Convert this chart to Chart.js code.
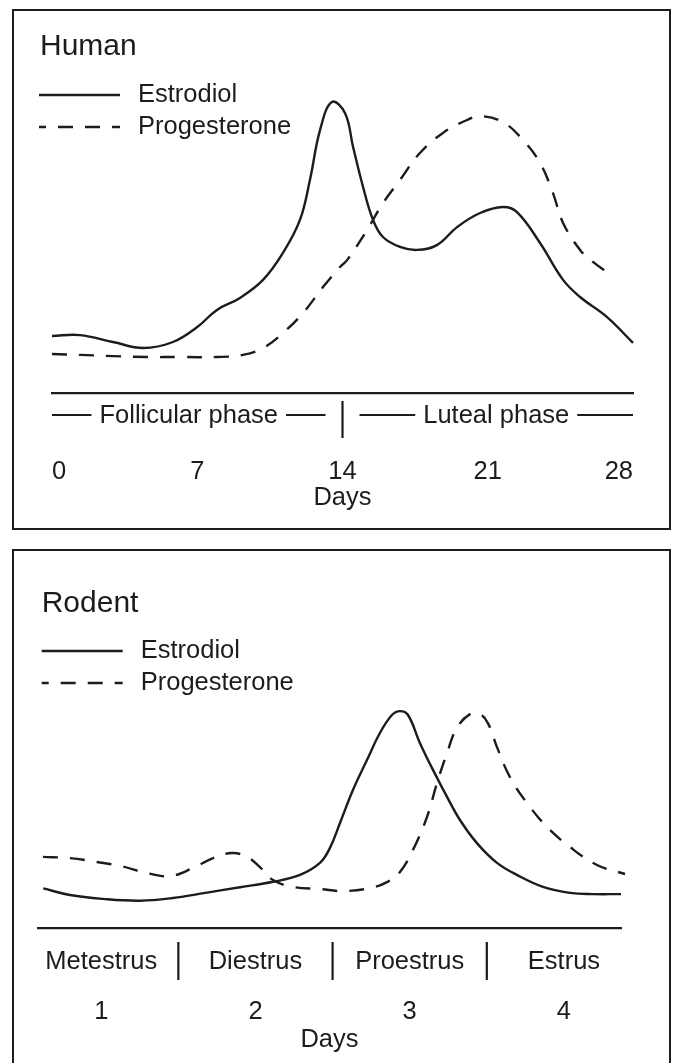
<!DOCTYPE html>
<html>
<head>
<meta charset="utf-8">
<title>Estradiol and progesterone: human vs rodent cycle</title>
<script src="https://cdn.jsdelivr.net/npm/chart.js@4.4.1/dist/chart.umd.min.js"></script>
<style>
  body { margin: 0; width: 674px; height: 1063px; overflow: hidden; background: #fff; position: relative; }
  .frame { position: absolute; left: 12px; width: 659px; border: 2.5px solid #1e1e1e; box-sizing: border-box; }
  #humanFrame { top: 9px; height: 521px; }
  #rodentFrame { top: 549px; height: 540px; }
  canvas { position: absolute; left: 0; }
  #humanChart { top: 0; }
  #rodentChart { top: 540px; }
</style>
</head>
<body>
<div class="frame" id="humanFrame"></div>
<div class="frame" id="rodentFrame"></div>
<canvas id="humanChart" width="674" height="540"></canvas>
<canvas id="rodentChart" width="674" height="523"></canvas>
<script>
// hormone levels (arbitrary units, 0-100)
const humanTicks = [0, 7, 14, 21, 28];
const humanPhases = ['Follicular phase', 'Luteal phase'];
const humanPhaseEdges = [0, 14, 28];

const humanE2Days = [0, 1.35, 2.94, 4.39, 5.83, 7, 7.95, 9.06, 10.17, 11.13, 11.95, 12.43, 12.92, 13.49, 14.12, 14.51,
  14.99, 15.47, 15.95, 16.77, 17.59, 18.55, 19.52, 20.63, 21.73, 22.41, 23.52, 24.63, 25.45, 26.75, 28];
const humanE2 = [19, 19.3, 17, 15, 17, 22, 27.7, 31.7, 37.7, 46.7, 57.7, 71, 87.7, 97, 93.3, 82,
  68.7, 57.7, 52, 48.7, 47.7, 49.3, 55.3, 60, 62, 60.3, 50, 37.7, 32, 25.3, 16.7];

const humanP4Days = [0, 1.35, 2.94, 4.58, 6.17, 7.95, 9.2, 10.17, 11.13, 12.1, 13.06, 13.88, 14.22, 15.18,
  15.95, 16.77, 17.73, 18.84, 20, 20.63, 21.73, 22.7, 23.52, 24.14, 24.63, 25.45, 26.07, 26.75];
const humanP4 = [13, 12.7, 12.3, 12, 12, 12, 12.7, 15, 20, 26.7, 35.3, 42, 44.3, 54.3,
  63.3, 71, 80, 86.7, 91, 92.3, 90.3, 84.3, 76.7, 66.7, 56.7, 47.7, 43.7, 40.3];

const rodentTicks = [1, 2, 3, 4];
const rodentStages = ['Metestrus', 'Diestrus', 'Proestrus', 'Estrus'];
const rodentStageEdges = [1.5, 2.5, 3.5];

const rodentE2Days = [0.624, 0.797, 1.011, 1.251, 1.465, 1.686, 1.9, 2.114, 2.289, 2.418, 2.483, 2.548, 2.632,
  2.723, 2.807, 2.885, 2.937, 2.989, 3.066, 3.151, 3.242, 3.326, 3.436, 3.566, 3.695, 3.864, 4.039, 4.188, 4.37];
const rodentE2 = [13.2, 11, 9.7, 9.1, 10, 11.8, 13.6, 15.4, 17.7, 21.7, 26.7, 35, 46,
  56, 65, 71, 72.3, 71, 61.7, 52.7, 43.7, 36, 28.3, 21.7, 17.7, 13.7, 11.7, 11.3, 11.3];

const rodentP4Days = [0.622, 0.797, 0.972, 1.122, 1.297, 1.446, 1.595, 1.725, 1.848, 1.945, 2.029, 2.114, 2.243,
  2.418, 2.567, 2.742, 2.853, 2.937, 3.021, 3.112, 3.177, 3.242, 3.306, 3.391, 3.455, 3.507, 3.566, 3.65,
  3.76, 3.89, 4.039, 4.214, 4.396];
const rodentP4 = [23.7, 23.3, 22, 20.7, 18.3, 17.3, 20, 23.3, 25, 23.7, 20.3, 16, 13.7,
  13, 12.3, 13.3, 15.3, 18.7, 26, 37, 48.3, 58.3, 66.7, 71.3, 71.3, 68.3, 60.3, 50.3,
  41.7, 33.7, 27, 21, 18];

const FONT = '"Liberation Sans", Arial, Helvetica, sans-serif';
const INK = '#1c1c1c';

function points(xs, ys) {
  return xs.map((x, i) => ({ x: x, y: ys[i] }));
}

function lineSet(label, xs, ys, dash) {
  return {
    label: label,
    data: points(xs, ys),
    borderColor: INK,
    borderWidth: 2.4,
    borderDash: dash,
    borderJoinStyle: 'round',
    pointRadius: 0,
    fill: false,
    tension: 0.4,
    clip: false
  };
}

// title, hand-made legend and the phase / stage row under the axis
const decor = {
  id: 'decor',
  afterDraw(chart, args, opts) {
    const ctx = chart.ctx;
    const sx = chart.scales.x;
    ctx.save();
    ctx.fillStyle = INK;
    ctx.strokeStyle = INK;
    ctx.textBaseline = 'alphabetic';

    ctx.font = '30px ' + FONT;
    ctx.textAlign = 'left';
    ctx.fillText(opts.title, opts.titleX, opts.titleY);

    ctx.font = '25.5px ' + FONT;
    chart.data.datasets.forEach((ds, i) => {
      const ly = opts.legendY[i];
      ctx.lineWidth = ds.borderWidth;
      ctx.setLineDash(ds.borderDash || []);
      ctx.lineDashOffset = 8;
      ctx.beginPath();
      ctx.moveTo(opts.legendX, ly);
      ctx.lineTo(opts.legendX + 81, ly);
      ctx.stroke();
      ctx.setLineDash([]);
      ctx.fillText(ds.label, opts.legendX + 99, ly + 6.5);
    });

    ctx.lineWidth = 2.2;
    ctx.textAlign = 'center';
    const rowY = opts.rowY;
    if (opts.phases) {
      const edges = opts.edges;
      for (let i = 0; i < opts.phases.length; i++) {
        const a = sx.getPixelForValue(edges[i]) + (i > 0 ? 17 : 0);
        const b = sx.getPixelForValue(edges[i + 1]) - (i < opts.phases.length - 1 ? 17 : 0);
        const c = (a + b) / 2;
        const w = ctx.measureText(opts.phases[i]).width;
        ctx.fillText(opts.phases[i], c, rowY);
        ctx.beginPath();
        ctx.moveTo(a, rowY - 8);
        ctx.lineTo(c - w / 2 - 8, rowY - 8);
        ctx.moveTo(c + w / 2 + 8, rowY - 8);
        ctx.lineTo(b, rowY - 8);
        ctx.stroke();
      }
      for (let i = 1; i < edges.length - 1; i++) {
        const px = sx.getPixelForValue(edges[i]);
        ctx.beginPath();
        ctx.moveTo(px, rowY - 22);
        ctx.lineTo(px, rowY + 15);
        ctx.stroke();
      }
    } else {
      opts.stages.forEach((s, i) => {
        ctx.fillText(s, sx.getPixelForValue(opts.stageAt[i]), rowY);
      });
      opts.edges.forEach(e => {
        const px = sx.getPixelForValue(e);
        ctx.beginPath();
        ctx.moveTo(px, rowY - 27);
        ctx.lineTo(px, rowY + 11);
        ctx.stroke();
      });
    }
    ctx.restore();
  }
};

function makeChart(id, cfg) {
  return new Chart(document.getElementById(id), {
    type: 'line',
    data: {
      datasets: [
        lineSet('Estrodiol', cfg.e2Days, cfg.e2, []),
        lineSet('Progesterone', cfg.p4Days, cfg.p4, [15, 12])
      ]
    },
    options: {
      responsive: false,
      animation: false,
      events: [],
      layout: { padding: cfg.padding },
      plugins: {
        legend: { display: false },
        tooltip: { enabled: false },
        decor: cfg.decor
      },
      scales: {
        x: {
          type: 'linear',
          min: cfg.min,
          max: cfg.max,
          afterBuildTicks: s => { s.ticks = cfg.ticks.map(v => ({ value: v })); },
          afterFit: s => { s.height = cfg.axisHeight; s.paddingLeft = 0; s.paddingRight = 0; },
          grid: { display: false },
          border: { display: true, color: INK, width: 2.3 },
          ticks: {
            align: cfg.tickAlign,
            maxRotation: 0,
            autoSkip: false,
            padding: cfg.tickPadding,
            color: INK,
            font: { family: FONT, size: 25.5 },
            callback: v => String(v)
          },
          title: {
            display: true,
            text: 'Days',
            color: INK,
            font: { family: FONT, size: 25.5 },
            padding: { top: 0, bottom: cfg.titlePad }
          }
        },
        y: { display: false, min: 0, max: 100 }
      }
    },
    plugins: [decor]
  });
}

makeChart('humanChart', {
  e2Days: humanE2Days, e2: humanE2, p4Days: humanP4Days, p4: humanP4,
  min: 0, max: 28, ticks: humanTicks, tickAlign: 'inner',
  padding: { left: 52, right: 41, top: 93, bottom: 0 },
  axisHeight: 147, tickPadding: 56, titlePad: 27,
  decor: {
    title: 'Human', titleX: 40, titleY: 55,
    legendX: 39, legendY: [95, 127],
    rowY: 423, phases: humanPhases, edges: humanPhaseEdges
  }
});

makeChart('rodentChart', {
  e2Days: rodentE2Days, e2: rodentE2, p4Days: rodentP4Days, p4: rodentP4,
  min: 0.59, max: 4.37, ticks: rodentTicks, tickAlign: 'center',
  padding: { left: 38, right: 53, top: 88, bottom: 0 },
  axisHeight: 135, tickPadding: 61, titlePad: 7.7,
  decor: {
    title: 'Rodent', titleX: 41.7, titleY: 71.7,
    legendX: 41.7, legendY: [111, 143],
    rowY: 429, stages: rodentStages, stageAt: rodentTicks, edges: rodentStageEdges
  }
});
</script>
</body>
</html>
